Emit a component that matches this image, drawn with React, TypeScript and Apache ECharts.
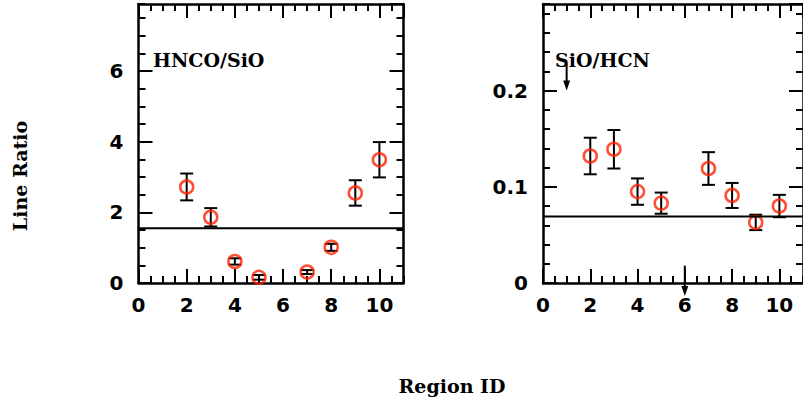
import React, { useEffect, useRef } from "react";
import * as echarts from "echarts";

// ---- data ----
const regions = [2, 3, 4, 5, 7, 8, 9, 10];
const hncoSio = [2.72, 1.86, 0.61, 0.16, 0.31, 1.01, 2.55, 3.49];
const hncoSioErr = [0.38, 0.26, 0.09, 0.066, 0.056, 0.1, 0.36, 0.5];
const sioHcn = [0.132, 0.139, 0.095, 0.083, 0.119, 0.091, 0.063, 0.08];
const sioHcnErr = [0.019, 0.02, 0.0137, 0.011, 0.017, 0.013, 0.008, 0.0116];
// upper limits (arrow tail value, arrow tip value)
const sioHcnLimitRegions = [1, 6];
const sioHcnLimitTail = [0.228, 0.018];
const sioHcnLimitTip = [0.2, -0.0135];
const hncoSioLevel = 1.55;
const sioHcnLevel = 0.069;
const xTicks = [0, 2, 4, 6, 8, 10];
const panelTitles = ["HNCO/SiO", "SiO/HCN"];

const RED = "#ff2200";
const TICK_FONT = "DejaVu Sans";
const SERIF = "DejaVu Serif";

export default function App() {
  const ref = useRef<HTMLDivElement>(null);
  useEffect(() => {
    if (!ref.current) return;
    const chart = echarts.init(ref.current, undefined, { renderer: "svg" });

    const grids = [
      { left: 138.5, top: 4, width: 265, height: 279 },
      { left: 543, top: 4, width: 264, height: 279 },
    ];
    const yMax = [7.9, 0.29];
    const yMajor = [2, 0.1];
    const yMinor = [0.5, 0.02];

    const xAxis: any[] = [];
    const yAxis: any[] = [];
    const lineStyle = { color: "#000", width: 2.5 };
    grids.forEach((_, g) => {
      (["bottom", "top"] as const).forEach((pos) => {
        xAxis.push({
          gridIndex: g, type: "value", position: pos, min: 0, max: 11, interval: 2,
          axisLine: { show: true, onZero: false, lineStyle },
          axisTick: { show: true, inside: true, length: 14, lineStyle: { color: "#000", width: 2 } },
          axisLabel: {
            show: pos === "bottom", margin: 12, showMaxLabel: false,
            color: "#000", fontFamily: TICK_FONT, fontWeight: "bold", fontSize: 20,
            formatter: (v: number) => (xTicks.includes(v) ? String(v) : ""),
          },
          splitLine: { show: false },
        });
        xAxis.push({
          gridIndex: g, type: "value", position: pos, min: 0, max: 11, interval: 0.5,
          axisLine: { show: false, onZero: false },
          axisTick: { show: true, inside: true, length: 7, lineStyle: { color: "#000", width: 2 } },
          axisLabel: { show: false },
          splitLine: { show: false },
        });
      });
      (["left", "right"] as const).forEach((pos) => {
        yAxis.push({
          gridIndex: g, type: "value", position: pos, min: 0, max: yMax[g], interval: yMajor[g],
          axisLine: { show: true, onZero: false, lineStyle },
          axisTick: { show: true, inside: true, length: 14, lineStyle: { color: "#000", width: 2 } },
          axisLabel: {
            show: pos === "left", margin: 15, showMaxLabel: false,
            color: "#000", fontFamily: TICK_FONT, fontWeight: "bold", fontSize: 20,
            formatter: (v: number) => (v === 0 ? "0" : String(+v.toFixed(3))),
          },
          splitLine: { show: false },
        });
        yAxis.push({
          gridIndex: g, type: "value", position: pos, min: 0, max: yMax[g], interval: yMinor[g],
          axisLine: { show: false, onZero: false },
          axisTick: { show: true, inside: true, length: 7, lineStyle: { color: "#000", width: 2 } },
          axisLabel: { show: false },
          splitLine: { show: false },
        });
      });
    });

    const errBar = (params: any, api: any) => {
      const x = api.value(0), y = api.value(1), e = api.value(2);
      const t = api.coord([x, y + e]);
      const b = api.coord([x, y - e]);
      const hw = 6.5;
      const st = { stroke: "#000", lineWidth: 2 };
      return {
        type: "group",
        children: [
          { type: "line", shape: { x1: t[0], y1: t[1], x2: b[0], y2: b[1] }, style: st },
          { type: "line", shape: { x1: t[0] - hw, y1: t[1], x2: t[0] + hw, y2: t[1] }, style: st },
          { type: "line", shape: { x1: b[0] - hw, y1: b[1], x2: b[0] + hw, y2: b[1] }, style: st },
        ],
      };
    };
    const arrow = (params: any, api: any) => {
      const x = api.value(0);
      const a = api.coord([x, api.value(1)]);
      const b = api.coord([x, api.value(2)]);
      const hl = 10, hw = 3.5;
      return {
        type: "group",
        children: [
          { type: "line", shape: { x1: a[0], y1: a[1], x2: b[0], y2: b[1] - hl + 1 }, style: { stroke: "#000", lineWidth: 2 } },
          { type: "polygon", shape: { points: [[b[0] - hw, b[1] - hl], [b[0] + hw, b[1] - hl], [b[0], b[1]]] }, style: { fill: "#000" } },
        ],
      };
    };

    const sets = [
      { v: hncoSio, e: hncoSioErr, level: hncoSioLevel },
      { v: sioHcn, e: sioHcnErr, level: sioHcnLevel },
    ];
    const series: any[] = [];
    sets.forEach((s, g) => {
      const xi = g * 4, yi = g * 4;
      series.push({
        type: "line", xAxisIndex: xi, yAxisIndex: yi, symbol: "none",
        data: [[0, s.level], [11, s.level]],
        lineStyle: { color: "#000", width: 2 }, silent: true,
      });
      series.push({
        type: "custom", xAxisIndex: xi, yAxisIndex: yi, renderItem: errBar,
        data: regions.map((r, i) => [r, s.v[i], s.e[i]]), encode: { x: 0, y: 1 }, silent: true,
      });
      series.push({
        type: "scatter", xAxisIndex: xi, yAxisIndex: yi, symbol: "circle", symbolSize: 13,
        data: regions.map((r, i) => [r, s.v[i]]),
        itemStyle: { color: "rgba(0,0,0,0)", borderColor: RED, borderWidth: 2.5 }, silent: true,
      });
    });
    series.push({
      type: "custom", xAxisIndex: 4, yAxisIndex: 4, renderItem: arrow, clip: false,
      data: sioHcnLimitRegions.map((r, i) => [r, sioHcnLimitTail[i], sioHcnLimitTip[i]]),
      encode: { x: 0, y: 1 }, silent: true,
    });

    const txt = (text: string, x: number, y: number, align = "left", rotation = 0) => ({
      type: "text", x, y, rotation,
      style: {
        text, fill: "#000", font: `bold 19px "${SERIF}"`,
        textAlign: align, textVerticalAlign: "middle",
      },
    });

    chart.setOption({
      animation: false,
      backgroundColor: "#fff",
      grid: grids.map((g) => ({ ...g, containLabel: false })),
      xAxis,
      yAxis,
      series,
      graphic: [
        txt(panelTitles[0], 153, 60),
        txt(panelTitles[1], 555, 60),
        txt("Line Ratio", 20, 176, "center", Math.PI / 2),
        txt("Region ID", 452, 386, "center"),
      ],
    });
    return () => chart.dispose();
  }, []);
  return (
    <div
      ref={ref}
      style={{ position: "fixed", left: 0, top: 0, width: 803, height: 403, background: "#fff" }}
    />
  );
}
